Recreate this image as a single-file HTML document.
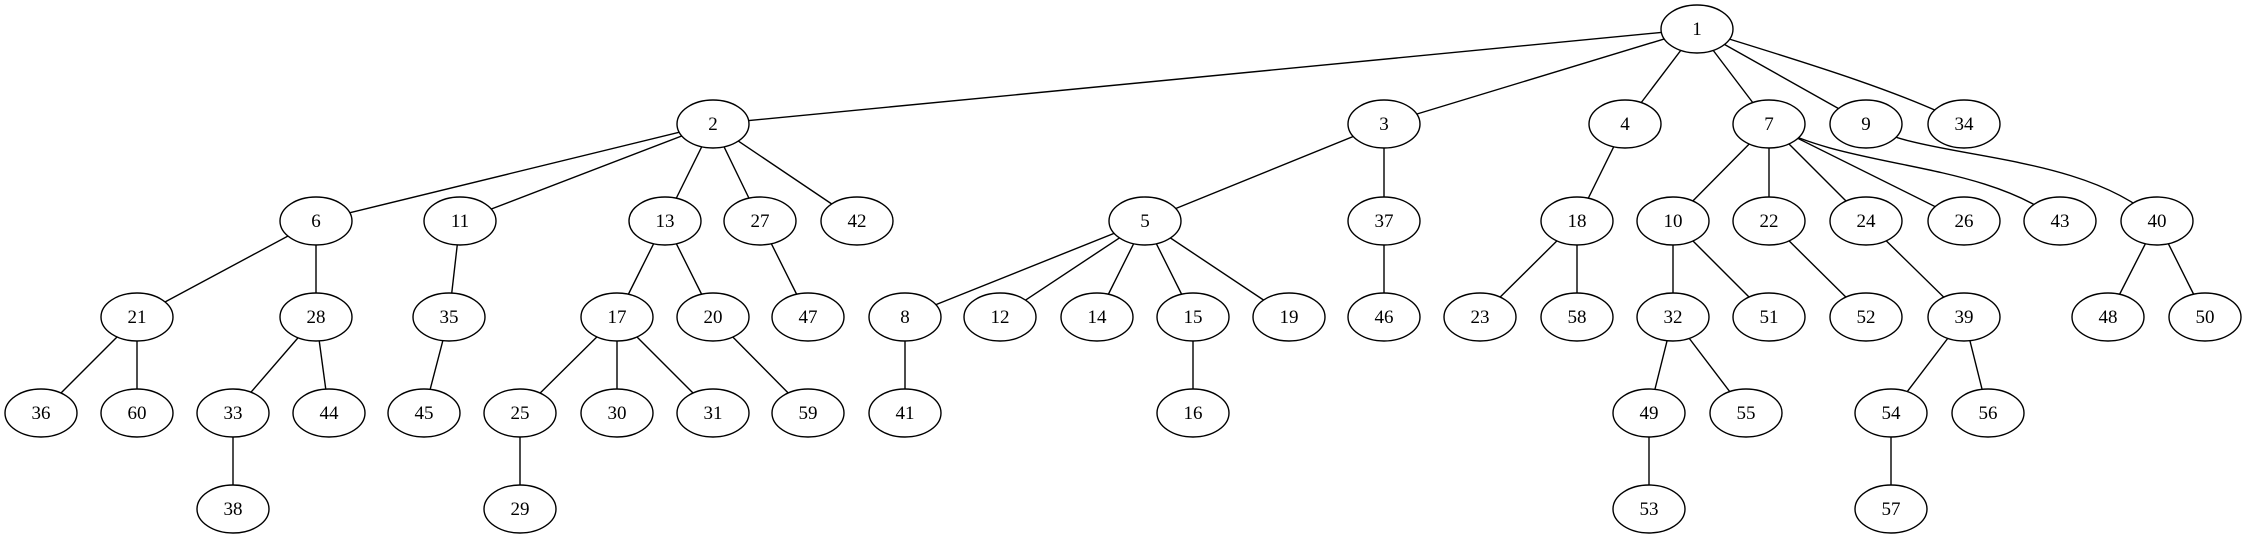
<!DOCTYPE html>
<html><head><meta charset="utf-8"><style>html,body{margin:0;padding:0;background:#fff}svg{display:block}text{font-family:"Liberation Serif","Times New Roman",serif;font-size:19px}</style></head>
<body>
<svg width="2243" height="539" viewBox="0 0 2243 539" xmlns="http://www.w3.org/2000/svg">
<g stroke="#000" stroke-width="1.4" fill="none">
<line x1="1697" y1="29" x2="713" y2="124"/>
<line x1="1697" y1="29" x2="1384" y2="124"/>
<line x1="1697" y1="29" x2="1625" y2="124"/>
<line x1="1697" y1="29" x2="1769" y2="124"/>
<line x1="1697" y1="29" x2="1866" y2="124"/>
<path d="M1697,29 C1780,55 1900,90 1964,124"/>
<line x1="713" y1="124" x2="316" y2="221"/>
<line x1="713" y1="124" x2="460" y2="221"/>
<line x1="713" y1="124" x2="665" y2="221"/>
<line x1="713" y1="124" x2="760" y2="221"/>
<line x1="713" y1="124" x2="857" y2="221"/>
<line x1="1384" y1="124" x2="1145" y2="221"/>
<line x1="1384" y1="124" x2="1384" y2="221"/>
<line x1="1625" y1="124" x2="1577" y2="221"/>
<line x1="1769" y1="124" x2="1673" y2="221"/>
<line x1="1769" y1="124" x2="1769" y2="221"/>
<line x1="1769" y1="124" x2="1866" y2="221"/>
<line x1="1769" y1="124" x2="1964" y2="221"/>
<path d="M1769,124 C1850,170 1980,160 2060,221"/>
<path d="M1866,124 C1920,160 2080,150 2157,221"/>
<line x1="316" y1="221" x2="137" y2="317"/>
<line x1="316" y1="221" x2="316" y2="317"/>
<line x1="460" y1="221" x2="449" y2="317"/>
<line x1="665" y1="221" x2="617" y2="317"/>
<line x1="665" y1="221" x2="713" y2="317"/>
<line x1="760" y1="221" x2="808" y2="317"/>
<line x1="1145" y1="221" x2="905" y2="317"/>
<line x1="1145" y1="221" x2="1000" y2="317"/>
<line x1="1145" y1="221" x2="1097" y2="317"/>
<line x1="1145" y1="221" x2="1193" y2="317"/>
<line x1="1145" y1="221" x2="1289" y2="317"/>
<line x1="1384" y1="221" x2="1384" y2="317"/>
<line x1="1577" y1="221" x2="1480" y2="317"/>
<line x1="1577" y1="221" x2="1577" y2="317"/>
<line x1="1673" y1="221" x2="1673" y2="317"/>
<line x1="1673" y1="221" x2="1769" y2="317"/>
<line x1="1769" y1="221" x2="1866" y2="317"/>
<line x1="1866" y1="221" x2="1964" y2="317"/>
<line x1="2157" y1="221" x2="2108" y2="317"/>
<line x1="2157" y1="221" x2="2205" y2="317"/>
<line x1="137" y1="317" x2="41" y2="413"/>
<line x1="137" y1="317" x2="137" y2="413"/>
<line x1="316" y1="317" x2="233" y2="413"/>
<line x1="316" y1="317" x2="329" y2="413"/>
<line x1="449" y1="317" x2="424" y2="413"/>
<line x1="617" y1="317" x2="520" y2="413"/>
<line x1="617" y1="317" x2="617" y2="413"/>
<line x1="617" y1="317" x2="713" y2="413"/>
<line x1="713" y1="317" x2="808" y2="413"/>
<line x1="905" y1="317" x2="905" y2="413"/>
<line x1="1193" y1="317" x2="1193" y2="413"/>
<line x1="1673" y1="317" x2="1649" y2="413"/>
<line x1="1673" y1="317" x2="1746" y2="413"/>
<line x1="1964" y1="317" x2="1891" y2="413"/>
<line x1="1964" y1="317" x2="1988" y2="413"/>
<line x1="233" y1="413" x2="233" y2="509"/>
<line x1="520" y1="413" x2="520" y2="509"/>
<line x1="1649" y1="413" x2="1649" y2="509"/>
<line x1="1891" y1="413" x2="1891" y2="509"/>
</g>
<g stroke="#000" stroke-width="1.4" fill="#fff">
<ellipse cx="1697" cy="29" rx="36" ry="24"/>
<ellipse cx="713" cy="124" rx="36" ry="24"/>
<ellipse cx="1384" cy="124" rx="36" ry="24"/>
<ellipse cx="1625" cy="124" rx="36" ry="24"/>
<ellipse cx="1769" cy="124" rx="36" ry="24"/>
<ellipse cx="1866" cy="124" rx="36" ry="24"/>
<ellipse cx="1964" cy="124" rx="36" ry="24"/>
<ellipse cx="316" cy="221" rx="36" ry="24"/>
<ellipse cx="460" cy="221" rx="36" ry="24"/>
<ellipse cx="665" cy="221" rx="36" ry="24"/>
<ellipse cx="760" cy="221" rx="36" ry="24"/>
<ellipse cx="857" cy="221" rx="36" ry="24"/>
<ellipse cx="1145" cy="221" rx="36" ry="24"/>
<ellipse cx="1384" cy="221" rx="36" ry="24"/>
<ellipse cx="1577" cy="221" rx="36" ry="24"/>
<ellipse cx="1673" cy="221" rx="36" ry="24"/>
<ellipse cx="1769" cy="221" rx="36" ry="24"/>
<ellipse cx="1866" cy="221" rx="36" ry="24"/>
<ellipse cx="1964" cy="221" rx="36" ry="24"/>
<ellipse cx="2060" cy="221" rx="36" ry="24"/>
<ellipse cx="2157" cy="221" rx="36" ry="24"/>
<ellipse cx="137" cy="317" rx="36" ry="24"/>
<ellipse cx="316" cy="317" rx="36" ry="24"/>
<ellipse cx="449" cy="317" rx="36" ry="24"/>
<ellipse cx="617" cy="317" rx="36" ry="24"/>
<ellipse cx="713" cy="317" rx="36" ry="24"/>
<ellipse cx="808" cy="317" rx="36" ry="24"/>
<ellipse cx="905" cy="317" rx="36" ry="24"/>
<ellipse cx="1000" cy="317" rx="36" ry="24"/>
<ellipse cx="1097" cy="317" rx="36" ry="24"/>
<ellipse cx="1193" cy="317" rx="36" ry="24"/>
<ellipse cx="1289" cy="317" rx="36" ry="24"/>
<ellipse cx="1384" cy="317" rx="36" ry="24"/>
<ellipse cx="1480" cy="317" rx="36" ry="24"/>
<ellipse cx="1577" cy="317" rx="36" ry="24"/>
<ellipse cx="1673" cy="317" rx="36" ry="24"/>
<ellipse cx="1769" cy="317" rx="36" ry="24"/>
<ellipse cx="1866" cy="317" rx="36" ry="24"/>
<ellipse cx="1964" cy="317" rx="36" ry="24"/>
<ellipse cx="2108" cy="317" rx="36" ry="24"/>
<ellipse cx="2205" cy="317" rx="36" ry="24"/>
<ellipse cx="41" cy="413" rx="36" ry="24"/>
<ellipse cx="137" cy="413" rx="36" ry="24"/>
<ellipse cx="233" cy="413" rx="36" ry="24"/>
<ellipse cx="329" cy="413" rx="36" ry="24"/>
<ellipse cx="424" cy="413" rx="36" ry="24"/>
<ellipse cx="520" cy="413" rx="36" ry="24"/>
<ellipse cx="617" cy="413" rx="36" ry="24"/>
<ellipse cx="713" cy="413" rx="36" ry="24"/>
<ellipse cx="808" cy="413" rx="36" ry="24"/>
<ellipse cx="905" cy="413" rx="36" ry="24"/>
<ellipse cx="1193" cy="413" rx="36" ry="24"/>
<ellipse cx="1649" cy="413" rx="36" ry="24"/>
<ellipse cx="1746" cy="413" rx="36" ry="24"/>
<ellipse cx="1891" cy="413" rx="36" ry="24"/>
<ellipse cx="1988" cy="413" rx="36" ry="24"/>
<ellipse cx="233" cy="509" rx="36" ry="24"/>
<ellipse cx="520" cy="509" rx="36" ry="24"/>
<ellipse cx="1649" cy="509" rx="36" ry="24"/>
<ellipse cx="1891" cy="509" rx="36" ry="24"/>
</g>
<g text-anchor="middle" fill="#000">
<text x="1697" y="35">1</text>
<text x="713" y="130">2</text><text x="1384" y="130">3</text><text x="1625" y="130">4</text><text x="1769" y="130">7</text><text x="1866" y="130">9</text><text x="1964" y="130">34</text>
<text x="316" y="227">6</text><text x="460" y="227">11</text><text x="665" y="227">13</text><text x="760" y="227">27</text><text x="857" y="227">42</text><text x="1145" y="227">5</text><text x="1384" y="227">37</text><text x="1577" y="227">18</text><text x="1673" y="227">10</text><text x="1769" y="227">22</text><text x="1866" y="227">24</text><text x="1964" y="227">26</text><text x="2060" y="227">43</text><text x="2157" y="227">40</text>
<text x="137" y="323">21</text><text x="316" y="323">28</text><text x="449" y="323">35</text><text x="617" y="323">17</text><text x="713" y="323">20</text><text x="808" y="323">47</text><text x="905" y="323">8</text><text x="1000" y="323">12</text><text x="1097" y="323">14</text><text x="1193" y="323">15</text><text x="1289" y="323">19</text><text x="1384" y="323">46</text><text x="1480" y="323">23</text><text x="1577" y="323">58</text><text x="1673" y="323">32</text><text x="1769" y="323">51</text><text x="1866" y="323">52</text><text x="1964" y="323">39</text><text x="2108" y="323">48</text><text x="2205" y="323">50</text>
<text x="41" y="419">36</text><text x="137" y="419">60</text><text x="233" y="419">33</text><text x="329" y="419">44</text><text x="424" y="419">45</text><text x="520" y="419">25</text><text x="617" y="419">30</text><text x="713" y="419">31</text><text x="808" y="419">59</text><text x="905" y="419">41</text><text x="1193" y="419">16</text><text x="1649" y="419">49</text><text x="1746" y="419">55</text><text x="1891" y="419">54</text><text x="1988" y="419">56</text>
<text x="233" y="515">38</text><text x="520" y="515">29</text><text x="1649" y="515">53</text><text x="1891" y="515">57</text>
</g>
</svg>
</body></html>
